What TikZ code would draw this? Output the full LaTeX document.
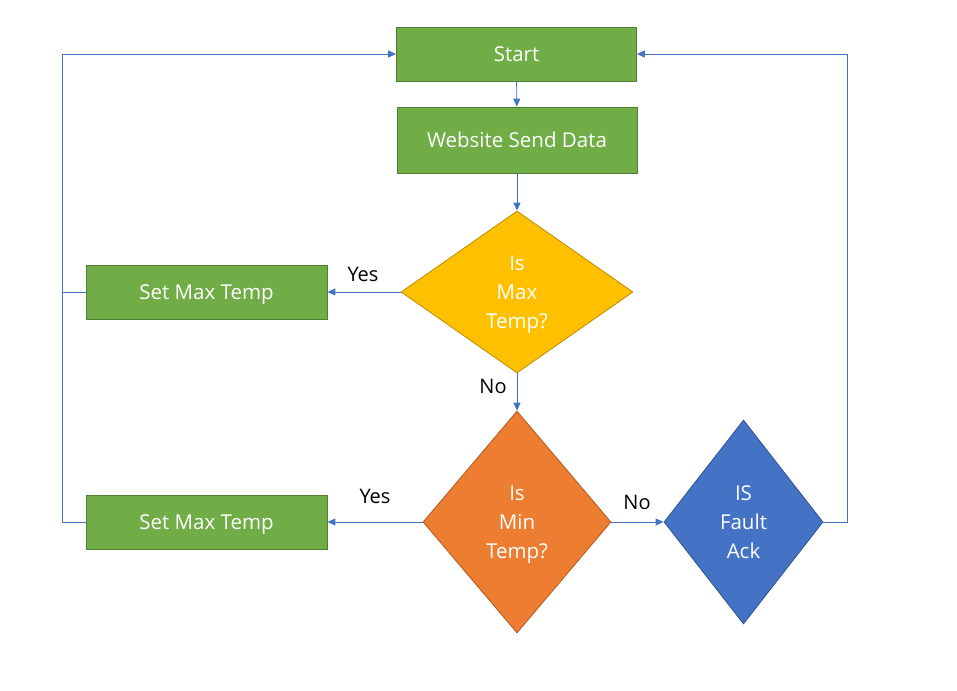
\documentclass[tikz,border=0pt]{standalone}
\usepackage{fontspec}
\setmainfont{Open Sans}
\usetikzlibrary{shapes.geometric,arrows.meta}
\definecolor{boxgreen}{HTML}{70AD47}
\definecolor{boxgreenb}{HTML}{507E32}
\definecolor{dyellow}{HTML}{FFC000}
\definecolor{dyellowb}{HTML}{BC8C00}
\definecolor{dorange}{HTML}{ED7D31}
\definecolor{dorangeb}{HTML}{AE5A21}
\definecolor{dblue}{HTML}{4472C4}
\definecolor{dblueb}{HTML}{2F528F}
\definecolor{linkblue}{HTML}{4472C4}
\begin{document}
\begin{tikzpicture}[x=1pt,y=-1pt,
  gbox/.style={draw=boxgreenb,fill=boxgreen,line width=0.8pt,text=white,
    minimum width=240pt,inner sep=0pt,text depth=0pt,font=\fontsize{20.5}{29}\selectfont},
  dia/.style={shape=diamond,inner sep=0pt,line width=0.8pt,text=white,align=center,
    text depth=0pt,font=\fontsize{20.5}{29}\selectfont},
  link/.style={draw=linkblue,line width=0.9pt,-{Triangle[length=8pt,width=7pt]}},
  lnk/.style={draw=linkblue,line width=0.9pt},
  lab/.style={text=black,font=\fontsize{20}{22}\selectfont,inner sep=0pt}]
\useasboundingbox (0,0) rectangle (957,690);
\node[gbox,minimum height=54pt] (start) at (516.5,54) {Start};
\node[gbox,minimum height=66pt] (web) at (517,140) {Website Send Data};
\node[dia,draw=dyellowb,fill=dyellow,minimum width=232pt,minimum height=162pt] (dmax) at (517,292) {Is\\Max\\Temp?};
\node[gbox,minimum width=241pt,minimum height=54pt] (smax1) at (206.5,292) {Set Max Temp};
\node[gbox,minimum width=241pt,minimum height=54pt] (smax2) at (206.5,522) {Set Max Temp};
\node[dia,draw=dorangeb,fill=dorange,minimum width=188pt,minimum height=222pt] (dmin) at (517,522) {Is\\Min\\Temp?};
\node[dia,draw=dblueb,fill=dblue,minimum width=159pt,minimum height=204pt] (dfault) at (743.5,522) {IS\\Fault\\Ack};
\coordinate (lt) at (62,54);
\coordinate (lm) at (62,292);
\coordinate (lb) at (62,522);
\coordinate (rt) at (847,54);
\coordinate (rb) at (847,522);
\draw[link] (start) -- (web);
\draw[link] (web) -- (dmax);
\draw[link] (dmax) -- (smax1);
\draw[link] (dmax) -- (dmin);
\draw[link] (dmin) -- (smax2);
\draw[link] (dmin) -- (dfault);
\draw[lnk] (smax1.west) -- (lm);
\draw[link] (smax2.west) -- (lb) -- (lt) -- (start.west);
\draw[link] (dfault.east) -- (rb) -- (rt) -- (start.east);
\node[lab] (y1) at (363,274) {Yes};
\node[lab] (y2) at (375,496) {Yes};
\node[lab] (n1) at (493,386) {No};
\node[lab] (n2) at (637,502) {No};
\end{tikzpicture}
\end{document}
